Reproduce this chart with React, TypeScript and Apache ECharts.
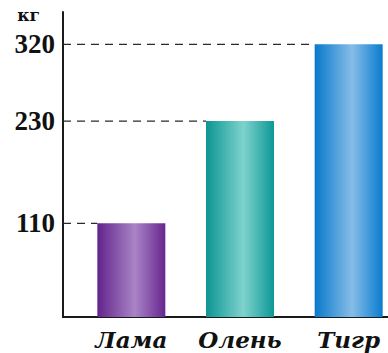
import React, { useEffect, useRef } from "react";
import * as echarts from "echarts";

const categories = ["Лама", "Олень", "Тигр"];
const values = [110, 230, 320];
const tickValues = [110, 230, 320];
const unitLabel = "кг";
const barColors = [
  ["#62238c", "#a984c6", "#67268f"],
  ["#0c9593", "#7fd2cd", "#0d9896"],
  ["#0879cc", "#86bde8", "#097ccf"],
];

const AXIS_OFFSET = 14;
const BAR_WIDTH = 68;

export default function App() {
  const ref = useRef<HTMLDivElement>(null);
  useEffect(() => {
    document.body.style.margin = "0";
    if (!ref.current) return;
    const chart = echarts.init(ref.current, null, { renderer: "svg" });
    const serif = "'DejaVu Serif', serif";
    const numSerif = "'Liberation Serif', serif";
    chart.setOption({
      animation: false,
      grid: {
        left: 77,
        width: 326,
        top: 12,
        height: 305,
        outerBoundsMode: "none",
        containLabel: false,
      },
      xAxis: {
        type: "category",
        data: categories,
        axisLine: { lineStyle: { color: "#1a1a1a", width: 2 } },
        axisTick: { show: false },
        axisLabel: {
          interval: 0,
          color: "#111",
          fontFamily: serif,
          fontStyle: "italic",
          fontWeight: "bold",
          fontSize: 23,
          margin: 11,
        },
      },
      yAxis: {
        type: "value",
        min: 0,
        max: 358,
        offset: AXIS_OFFSET,
        splitLine: { show: false },
        axisLine: { show: true, lineStyle: { color: "#1a1a1a", width: 2 } },
        axisTick: { show: false },
        axisLabel: {
          customValues: tickValues,
          color: "#111",
          fontFamily: numSerif,
          fontWeight: "bold",
          fontSize: 27,
          margin: 8,
        },
        name: unitLabel,
        nameLocation: "end",
        nameGap: -3,
        nameTextStyle: {
          color: "#111",
          fontFamily: serif,
          fontWeight: "bold",
          fontSize: 17,
          align: "right",
          verticalAlign: "middle",
          padding: [0, 23, 0, 0],
        },
      },
      graphic: [
        {
          type: "line",
          shape: { x1: 62, y1: 317, x2: 78, y2: 317 },
          style: { stroke: "#1a1a1a", lineWidth: 2 },
        },
      ],
      series: [
        {
          type: "custom",
          z: 1,
          data: values.map((v, i) => [i, v]),
          renderItem: (params: any, api: any) => {
            const idx = api.value(0);
            const v = api.value(1);
            const pt = api.coord([idx, v]);
            const x1 = params.coordSys.x - AXIS_OFFSET;
            const x2 = pt[0] - BAR_WIDTH / 2;
            return {
              type: "line",
              shape: { x1, y1: pt[1], x2, y2: pt[1] },
              style: { stroke: "#2a2a2a", lineWidth: 1.3, lineDash: [8, 6] },
            };
          },
        },
        {
          type: "bar",
          z: 2,
          barWidth: BAR_WIDTH,
          data: values.map((v, i) => ({
            value: v,
            itemStyle: {
              color: new echarts.graphic.LinearGradient(0, 0, 1, 0, [
                { offset: 0, color: barColors[i][0] },
                { offset: 0.55, color: barColors[i][1] },
                { offset: 1, color: barColors[i][2] },
              ]),
            },
          })),
        },
      ],
    });
    return () => chart.dispose();
  }, []);
  return <div ref={ref} style={{ width: 388, height: 353 }} />;
}
